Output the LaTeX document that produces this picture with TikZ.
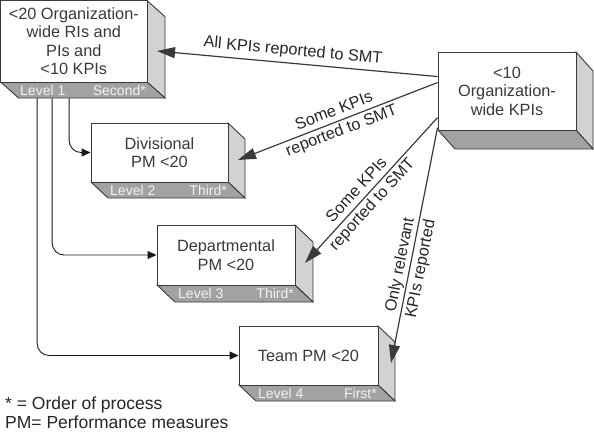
\documentclass[tikz,border=0pt]{standalone}
\usepackage{fontspec}
\setmainfont{Liberation Sans}
\usetikzlibrary{arrows.meta,calc}
\definecolor{rface}{HTML}{D2D2D2}
\definecolor{bface}{HTML}{A2A2A2}
\definecolor{edge}{HTML}{3A3A3A}
\definecolor{txt}{HTML}{3A3A3A}
\definecolor{lvltxt}{HTML}{F2F2F2}
\tikzset{
  face/.style={draw=edge, line width=0.9pt, line join=miter},
  front/.style={draw=edge, fill=white, line width=0.9pt, inner sep=0pt, align=center,
    text=txt, font=\fontsize{16.3}{18.5}\selectfont},
  lvl/.style={inner sep=0pt, text=lvltxt, font=\fontsize{14}{16}\selectfont},
  lab/.style={inner sep=0pt, align=center, text=black!85, font=\fontsize{16.3}{21}\selectfont},
  legend/.style={inner sep=0pt, text=black!85, font=\fontsize{17.5}{19}\selectfont},
  big/.style={draw=edge, line width=1.2pt, -{Triangle[length=18pt,width=11pt]}},
  small/.style={draw=black!90, line width=0.9pt, rounded corners=12pt, -{Triangle[length=9pt,width=8pt]}}
}
\begin{document}
\begin{tikzpicture}[x=1pt,y=-1pt]
\useasboundingbox (0,0) rectangle (594,432);
% box 1
\filldraw[face, fill=rface] (147,0.6) -- (165,16.6) -- (165,98) -- (147,82) -- cycle;
\filldraw[face, fill=bface] (0.6,82) -- (147,82) -- (165,98) -- (18.6,98) -- cycle;
\node[front, minimum width=146.4pt, minimum height=81.4pt] (b1) at (73.8,41.3)
  {\textless20 Organization-\\wide RIs and\\PIs and\\\textless10 KPIs};
\node[lvl, anchor=base west] (b1l) at (20,95) {Level 1};
\node[lvl, anchor=base east] (b1s) at (146,95) {Second*};
% box 2
\filldraw[face, fill=rface] (228,123) -- (245,139) -- (245,198) -- (228,182) -- cycle;
\filldraw[face, fill=bface] (91,182) -- (228,182) -- (245,198) -- (108,198) -- cycle;
\node[front, minimum width=137pt, minimum height=59pt] (b2) at (159.5,152.5)
  {Divisional\\PM \textless20};
\node[lvl, anchor=base west] (b2l) at (110,195) {Level 2};
\node[lvl, anchor=base east] (b2s) at (227,195) {Third*};
% box 3
\filldraw[face, fill=rface] (295,225) -- (313,242) -- (313,302) -- (295,285) -- cycle;
\filldraw[face, fill=bface] (157,285) -- (295,285) -- (313,302) -- (175,302) -- cycle;
\node[front, minimum width=138pt, minimum height=60pt] (b3) at (226,255)
  {Departmental\\PM \textless20};
\node[lvl, anchor=base west] (b3l) at (178,298) {Level 3};
\node[lvl, anchor=base east] (b3s) at (294,298) {Third*};
% box 4
\filldraw[face, fill=rface] (378,326) -- (395,342) -- (395,401) -- (378,385) -- cycle;
\filldraw[face, fill=bface] (239,385) -- (378,385) -- (395,401) -- (256,401) -- cycle;
\node[front, minimum width=139pt, minimum height=59pt] (b4) at (308.5,355.5)
  {Team PM \textless20};
\node[lvl, anchor=base west] (b4l) at (258,398) {Level 4};
\node[lvl, anchor=base east] (b4s) at (377,398) {First*};
% box 5
\filldraw[face, fill=rface] (576,52) -- (593,71) -- (593,149) -- (576,130) -- cycle;
\filldraw[face, fill=bface] (438,130) -- (576,130) -- (593,149) -- (455,149) -- cycle;
\node[front, minimum width=138pt, minimum height=78pt] (b5) at (507,91)
  {\textless10\\Organization-\\wide KPIs};
% arrow end points on the side faces
\coordinate (e1) at (157,51);
\coordinate (e2) at (238,160);
\coordinate (e3) at (305,263);
\coordinate (e4) at (391,363);
\draw[big] ($(b5.north west)+(0,25)$) -- (e1);
\draw[big] ($(b5.north west)+(0,31)$) -- (e2);
\draw[big] ($(b5.north west)+(0,66)$) -- (e3);
\draw[big] ($(b5.north west)+(0,76)$) -- (e4);
\node[lab, rotate=-5.3] (l1) at (293,51) {All KPIs reported to SMT};
\node[lab, rotate=21] (l2) at (338,121.5) {Some KPIs\\reported to SMT};
\node[lab, rotate=47.5] (l3) at (365,197.8) {Some KPIs\\reported to SMT};
\node[lab, rotate=78.9] (l4) at (410.8,267) {Only relevant\\KPIs reported};
% left connectors
\draw[small] ($(b1.south west)+(69,16)$) |- (b2.west);
\draw[small] ($(b1.south west)+(52,16)$) |- (b3.west);
\draw[small] ($(b1.south west)+(37,16)$) |- (b4.west);
% legend
\node[legend, anchor=base west] (leg1) at (5,409.5) {* = Order of process};
\node[legend, anchor=base west] (leg2) at (5,428.5) {PM= Performance measures};
\end{tikzpicture}
\end{document}
